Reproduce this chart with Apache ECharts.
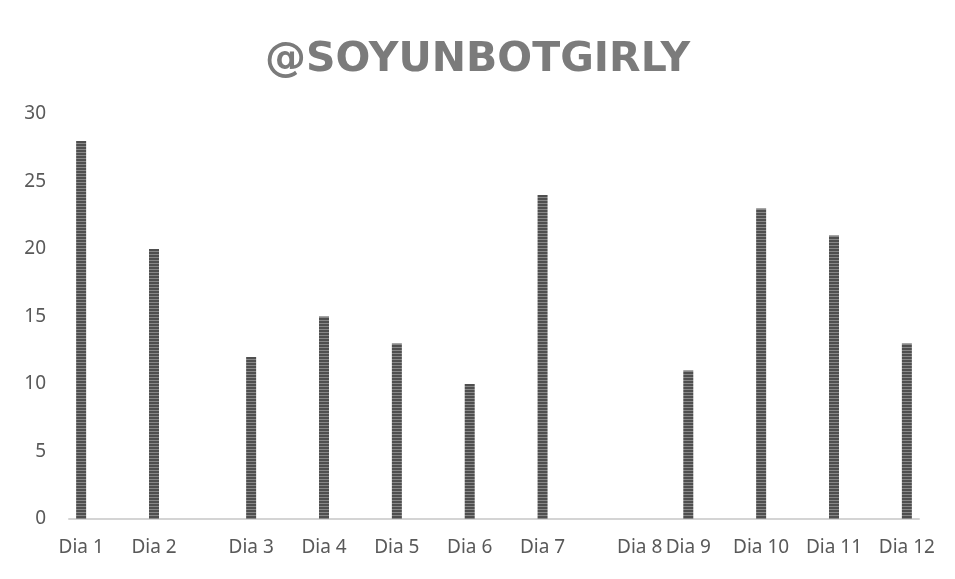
<!DOCTYPE html>
<html>
<head>
<meta charset="utf-8">
<script src="https://cdn.jsdelivr.net/npm/echarts@6/dist/echarts.min.js"></script>
<style>
  html, body { margin: 0; padding: 0; background: #fff; }
  #chart { width: 955px; height: 579px; }
</style>
</head>
<body>
<div id="chart"></div>
<script>
// ticks along the x axis (Excel left uneven gaps, so blank slots fill them)
const xLabels = [
  "Dia 1", "", "", "Dia 2", "", "", "", "Dia 3", "", "", "Dia 4", "", "",
  "Dia 5", "", "", "Dia 6", "", "", "Dia 7", "", "", "", "Dia 8", "", "Dia 9",
  "", "", "Dia 10", "", "", "Dia 11", "", "", "Dia 12"
];
const days = ["Dia 1", "Dia 2", "Dia 3", "Dia 4", "Dia 5", "Dia 6",
  "Dia 7", "Dia 8", "Dia 9", "Dia 10", "Dia 11", "Dia 12"];
const values = [28, 20, 12, 15, 13, 10, 24, 0, 11, 23, 21, 13];
const yTicks = [0, 5, 10, 15, 20, 25, 30];

// striped fill like the Excel pattern
const pat = document.createElement("canvas");
pat.width = 4;
pat.height = 3;
const pctx = pat.getContext("2d");
pctx.fillStyle = "#4f4f4f";
pctx.fillRect(0, 0, 4, 2);
pctx.fillStyle = "#888888";
pctx.fillRect(0, 2, 4, 1);

const chart = echarts.init(document.getElementById("chart"));
chart.setOption({
  animation: false,
  title: {
    text: "@SOYUNBOTGIRLY",
    left: "center",
    top: 35,
    textStyle: {
      fontFamily: "DejaVu Sans",
      fontWeight: "bold",
      fontSize: 41,
      color: "#7b7b7b"
    }
  },
  grid: { left: 69, right: 36, top: 114, bottom: 60 },
  xAxis: {
    type: "category",
    data: xLabels,
    axisLine: { lineStyle: { color: "#d4d4d4", width: 2 } },
    axisTick: { show: false },
    axisLabel: {
      interval: 0,
      color: "#595959",
      fontFamily: "Noto Sans",
      fontSize: 19,
      margin: 19
    }
  },
  yAxis: {
    type: "value",
    min: yTicks[0],
    max: yTicks[yTicks.length - 1],
    interval: 5,
    axisLine: { show: false },
    axisTick: { show: false },
    splitLine: { show: false },
    axisLabel: {
      color: "#595959",
      fontFamily: "Noto Sans",
      fontSize: 19,
      margin: 23
    }
  },
  series: [{
    type: "bar",
    barWidth: 10,
    data: days.map((d, i) => [d, values[i]]),
    itemStyle: { color: { image: pat, repeat: "repeat" } }
  }]
});
</script>
</body>
</html>
